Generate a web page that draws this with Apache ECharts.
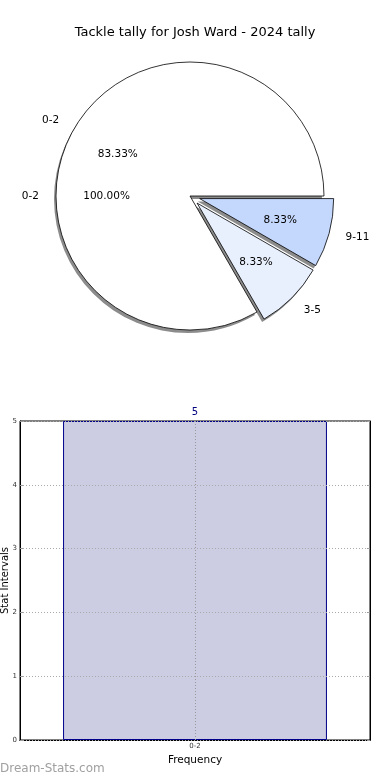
<!DOCTYPE html>
<html>
<head>
<meta charset="utf-8">
<script src="https://cdn.jsdelivr.net/npm/echarts@6/dist/echarts.min.js"></script>
<style>html,body{margin:0;padding:0;background:#fff}#c{width:390px;height:780px}</style>
</head>
<body>
<div id="c"></div>
<script>
// ---- data ----
var titleText = 'Tackle tally for Josh Ward - 2024 tally';
var pieCategories = ['0-2', '3-5', '9-11'];
var pieValues = [10, 1, 1];
var pieExploded = [false, true, true];
var pieColors = ['#ffffff', '#e9f0fd', '#c4d7fc'];
var pieTotalCategories = ['0-2'];
var pieTotalValues = [5];
var barCategories = ['0-2'];
var barValues = [5];
var yTicks = [0, 1, 2, 3, 4, 5];

var FONT = 'DejaVu Sans';
var R = 134;
var CX = 190, CY = 196;
var chart = echarts.init(document.getElementById('c'), null, {renderer: 'canvas'});

function sum(a) { return a.reduce(function (s, v) { return s + v; }, 0); }
function pieData(cats, vals, color, explode) {
  return cats.map(function (c, i) {
    var d = {name: c, value: vals[i], selected: explode ? !!pieExploded[i] : false};
    d.itemStyle = {color: color ? color[i] : 'rgba(0,0,0,0)'};
    return d;
  });
}
function pctFmt(vals) {
  var t = sum(vals);
  return function (p) { return (p.value / t * 100).toFixed(2) + '%'; };
}
var basePie = {
  type: 'pie', center: [CX, CY], startAngle: 0, clockwise: false,
  avoidLabelOverlap: false, selectedMode: 'multiple', selectedOffset: 10,
  emphasis: {disabled: true}, animation: false
};
var outsideLabel = {show: true, position: 'outside', formatter: '{b}', fontSize: 10.5, color: '#000', fontFamily: FONT, distanceToLabelLine: 0};
var outsideLine = {show: false, length: 17, length2: 0};

var option = {
  animation: false,
  textStyle: {fontFamily: FONT},
  title: {
    text: titleText, left: 'center', top: 21,
    textStyle: {fontFamily: FONT, fontSize: 13, fontWeight: 'normal', color: '#000'}
  },
  graphic: [{
    type: 'text', left: 0, top: 763,
    style: {text: 'Dream-Stats.com', fontFamily: FONT, fontSize: 12, fill: '#a0a0a0', fontWeight: 'normal'}
  }],
  grid: {left: 20, right: 20, top: 421, bottom: 40, show: true, borderColor: '#000', borderWidth: 1, containLabel: false, outerBoundsMode: 'none'},
  xAxis: [{
    type: 'category', data: barCategories, position: 'bottom',
    name: 'Frequency', nameLocation: 'middle', nameGap: 15, nameMoveOverlap: false,
    nameTextStyle: {fontFamily: FONT, fontSize: 10.5, color: '#000'},
    axisLine: {lineStyle: {color: '#000'}},
    axisTick: {inside: true, alignWithLabel: true, length: 3, lineStyle: {color: '#999'}},
    axisLabel: {fontSize: 7, color: '#333', margin: 3, fontFamily: FONT},
    splitLine: {show: false}
  }, {
    type: 'category', data: barCategories, position: 'top',
    axisLine: {lineStyle: {color: '#000'}},
    axisTick: {inside: true, alignWithLabel: true, length: 3, lineStyle: {color: '#999'}},
    axisLabel: {show: false}
  }],
  yAxis: [{
    type: 'value', min: 0, max: 5, interval: 1, position: 'left', z: 3,
    name: 'Stat Intervals', nameLocation: 'middle', nameGap: 10, nameMoveOverlap: false,
    nameTextStyle: {fontFamily: FONT, fontSize: 10, color: '#000'},
    axisLine: {show: true, lineStyle: {color: '#000'}},
    axisTick: {show: true, inside: true, length: 3, lineStyle: {color: '#999'}},
    axisLabel: {fontSize: 7, color: '#333', margin: 3, fontFamily: FONT,
      formatter: function (v) { return yTicks.indexOf(v) >= 0 ? String(v) : ''; }},
    splitLine: {show: true, lineStyle: {color: '#aaa', type: [1, 2], width: 1}}
  }, {
    type: 'value', min: 0, max: 5, interval: 1, position: 'right',
    axisLine: {show: true, lineStyle: {color: '#000'}},
    axisTick: {show: true, inside: true, length: 3, lineStyle: {color: '#999'}},
    axisLabel: {show: false}, splitLine: {show: false}
  }],
  series: [
    // shadow of the main pie
    Object.assign({}, basePie, {
      center: [CX - 2, CY + 3], radius: R, silent: true,
      label: {show: false}, labelLine: {show: false},
      itemStyle: {color: '#8c8c8c', borderWidth: 0},
      data: pieData(pieCategories, pieValues, ['#8c8c8c', '#8c8c8c', '#8c8c8c'], true)
    }),
    // total pie (single slice, labels only)
    Object.assign({}, basePie, {
      radius: R, silent: true, selectedMode: false,
      label: outsideLabel, labelLine: outsideLine,
      itemStyle: {borderWidth: 0},
      data: pieData(pieTotalCategories, pieTotalValues, null, false)
    }),
    Object.assign({}, basePie, {
      radius: [R * 0.2, R], silent: true, selectedMode: false,
      label: {show: true, position: 'inside', formatter: pctFmt(pieTotalValues), fontSize: 10.5, color: '#000', fontFamily: FONT},
      labelLine: {show: false},
      itemStyle: {borderWidth: 0},
      data: pieData(pieTotalCategories, pieTotalValues, null, false)
    }),
    // main pie
    Object.assign({}, basePie, {
      radius: R,
      label: outsideLabel, labelLine: outsideLine,
      itemStyle: {borderColor: '#000', borderWidth: 0.8},
      data: pieData(pieCategories, pieValues, pieColors, true)
    }),
    // percentage labels for main pie
    Object.assign({}, basePie, {
      radius: [R * 0.2, R], silent: true,
      label: {show: true, position: 'inside', formatter: pctFmt(pieValues), fontSize: 10.5, color: '#000', fontFamily: FONT},
      labelLine: {show: false},
      itemStyle: {borderWidth: 0},
      data: pieData(pieCategories, pieValues, null, true)
    }),
    // bar chart
    {
      type: 'bar', xAxisIndex: 0, yAxisIndex: 0, data: barValues, barWidth: '75.4%',
      itemStyle: {color: '#ccccE2', borderColor: '#00008b', borderWidth: 1},
      label: {show: true, position: 'top', distance: 4, color: '#00007f', fontSize: 10, fontFamily: FONT},
      emphasis: {disabled: true},
      markLine: {
        silent: true, symbol: 'none', label: {show: false},
        lineStyle: {color: '#999', type: [1, 2], width: 1},
        data: [{xAxis: 0}]
      }
    }
  ]
};
chart.setOption(option);
</script>
</body>
</html>
